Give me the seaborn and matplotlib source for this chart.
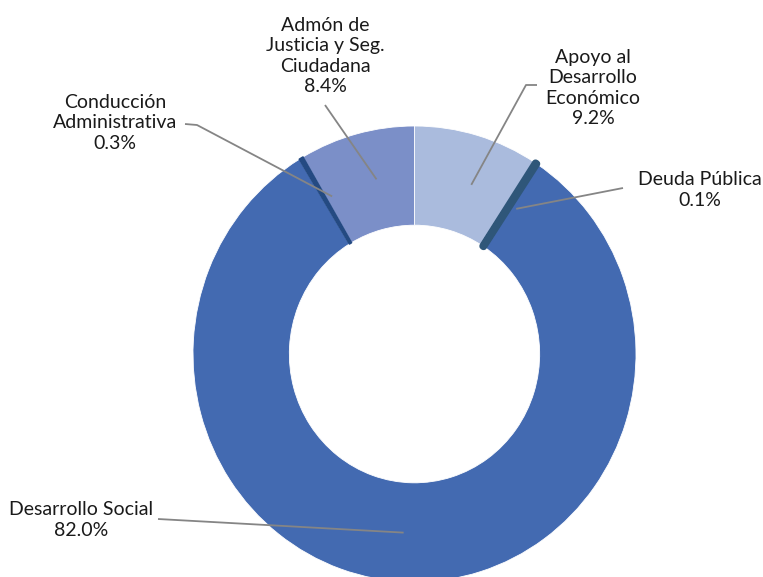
import numpy as np
import seaborn as sns
import matplotlib.pyplot as plt
from matplotlib.patches import Wedge

sns.set_style("white")
plt.rcParams['font.family'] = ['Lato', 'DejaVu Sans']

# datos (orden horario desde las 12)
categorias = ['Apoyo al\nDesarrollo\nEconómico', 'Deuda Pública', 'Desarrollo Social',
              'Conducción\nAdministrativa', 'Admón de\nJusticia y Seg.\nCiudadana']
porcentajes = [9.2, 0.1, 82.0, 0.3, 8.4]
colores = ['#AABBDD', '#2F5679', '#436AB1', '#244A82', '#7B8FC8']

W, H = 763, 577
CX, CY, SX, SY = 414.5, 354, 221.5, 228


def px(x, y):
    # pixel de la imagen -> coordenadas de datos
    return (x - CX) / SX, (CY - y) / SY


fig = plt.figure(figsize=(W / 100, H / 100), dpi=100)
ax = fig.add_axes([0, 0, 1, 1])
wedges, _ = ax.pie(porcentajes, colors=colores, startangle=90, counterclock=False,
                   wedgeprops=dict(width=0.435, edgecolor='white', linewidth=0.6))
ax.set_aspect('auto')
ax.set_xlim(px(0, 0)[0], px(W, 0)[0])
ax.set_ylim(px(0, H)[1], px(0, 0)[1])
ax.axis('off')

# porciones pequeñas con borde oscuro grueso, recortado al anillo
anillo = Wedge((0, 0), 1, 0, 360, width=0.435, transform=ax.transData)
for i, lw in [(1, 5.2), (3, 1.2)]:
    wedges[i].set_edgecolor(colores[i])
    wedges[i].set_linewidth(lw)
    wedges[i].set_joinstyle('round')
    wedges[i].set_zorder(5)
    wedges[i].set_clip_path(anillo)

# etiquetas: centro del texto (px) y codo de la línea guía (px)
texto_pos = [(593, 88), (700, 190), (81, 520), (115, 123), (325, 56)]
guia = [[(537, 85), (526, 85)], [(623, 188)], [(158, 519)],
        [(185, 124), (197, 125)], [(325, 105)]]

for w, cat, p, tp, g in zip(wedges, categorias, porcentajes, texto_pos, guia):
    ang = np.deg2rad((w.theta1 + w.theta2) / 2 - 2.5)
    ex, ey = 0.785 * np.cos(ang), 0.785 * np.sin(ang)
    xs = [px(*q)[0] for q in g] + [ex]
    ys = [px(*q)[1] for q in g] + [ey]
    ax.plot(xs, ys, color='#858585', lw=1.3, zorder=6, solid_capstyle='butt')
    tx, ty = px(*tp)
    ax.text(tx, ty, f'{cat}\n{p:.1f}%', ha='center', va='center', fontsize=14,
            linespacing=1.22, color='#1a1a1a')

fig.savefig('out.png', dpi=100)
